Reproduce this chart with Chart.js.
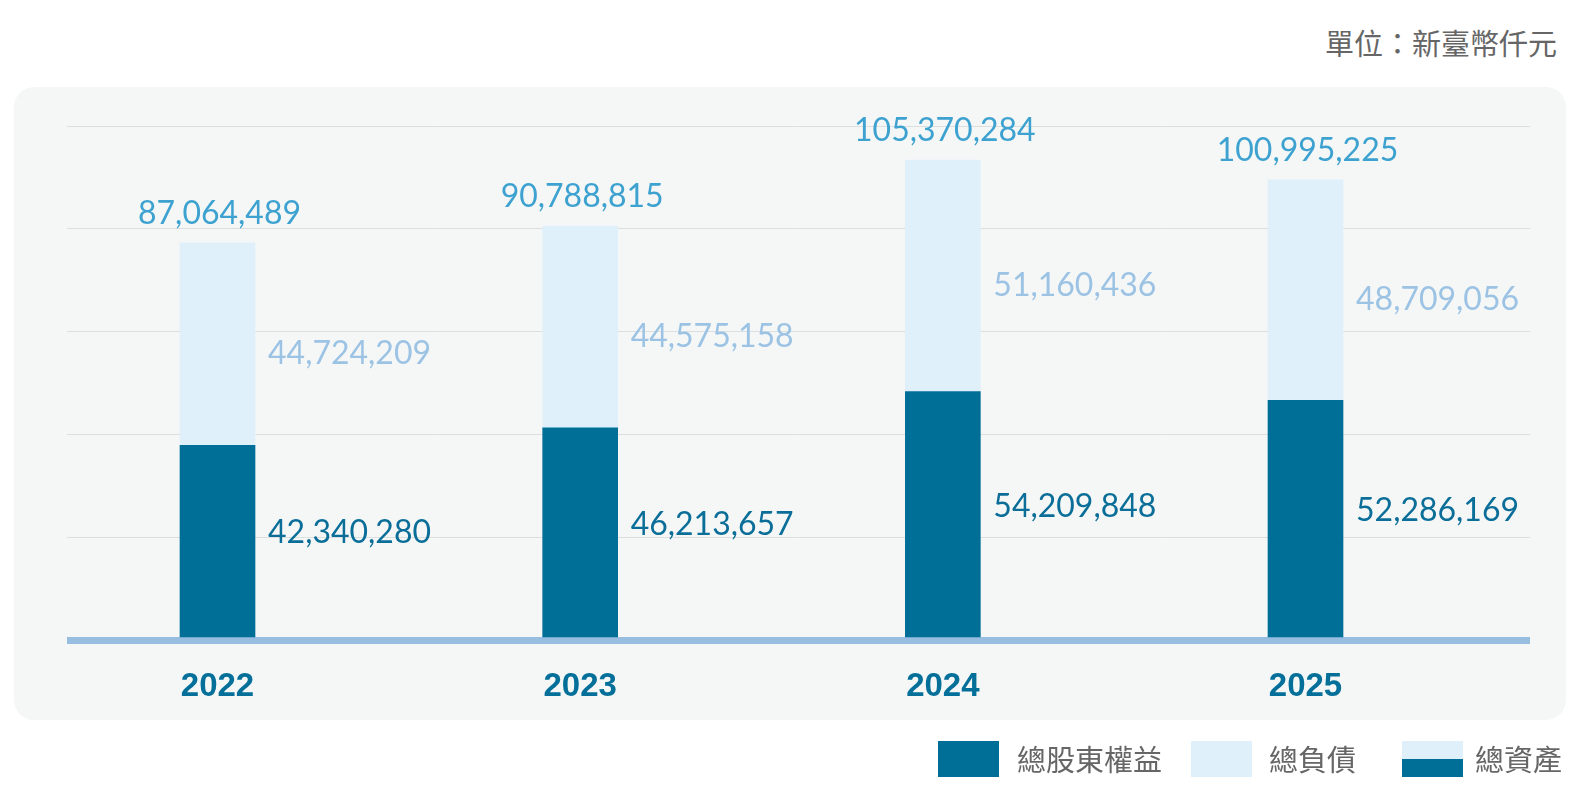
<!DOCTYPE html>
<html lang="zh-Hant">
<head>
<meta charset="utf-8">
<title>總資產</title>
<script src="https://cdn.jsdelivr.net/npm/chart.js@4/dist/chart.umd.min.js"></script>
<style>
  html, body { margin: 0; padding: 0; background: #ffffff; overflow: hidden; }
  #page { position: relative; width: 1582px; height: 799px; }
  #panel { position: absolute; left: 14px; top: 87px; width: 1552px; height: 633px; background: #f5f7f7; border-radius: 20px; }
  #unit { position: absolute; right: 25px; top: 22px; font: 29px "Noto Sans CJK TC", sans-serif; color: #666; line-height: 40px; }
  #chartWrap { position: absolute; left: 0; top: 0; width: 1582px; height: 799px; }
  .lg-box { position: absolute; top: 741px; width: 61px; height: 36px; }
  .lg-text { position: absolute; top: 737px; font: 29px "Noto Sans CJK TC", sans-serif; color: #666; line-height: 42px; }
</style>
</head>
<body>
<div id="page">
  <div id="panel"></div>
  <div id="unit">單位：新臺幣仟元</div>
  <div id="chartWrap"><canvas id="chartCanvas"></canvas></div>
  <div class="lg-box" style="left:938px; background:#006f98;"></div>
  <div class="lg-text" style="left:1017px;">總股東權益</div>
  <div class="lg-box" style="left:1191px; background:#dff0fa;"></div>
  <div class="lg-text" style="left:1269px;">總負債</div>
  <div class="lg-box" style="left:1402px; background:linear-gradient(#dff0fa 0 50%, #006f98 50% 100%);"></div>
  <div class="lg-text" style="left:1475px;">總資產</div>
</div>
<script>
// values in NT$ thousands
const years = ['2022', '2023', '2024', '2025'];
const equity = [42340280, 46213657, 54209848, 52286169];
const liabilities = [44724209, 44575158, 51160436, 48709056];
const totals = [87064489, 90788815, 105370284, 100995225];

const DARK = '#006f98';
const LIGHT = '#dff0fa';

function fmt(v) {
  return v.toLocaleString('en-US');
}

// draws the numbers next to / above each bar
const valueLabels = {
  id: 'valueLabels',
  afterDatasetsDraw(chart) {
    const ctx = chart.ctx;
    const eqBars = chart.getDatasetMeta(0).data;
    const liBars = chart.getDatasetMeta(1).data;
    ctx.save();
    ctx.font = '32px Lato, "Noto Sans", sans-serif';
    for (let i = 0; i < years.length; i++) {
      const eq = eqBars[i];
      const li = liBars[i];
      const right = eq.x + eq.width / 2 + 13;

      ctx.textAlign = 'center';
      ctx.textBaseline = 'alphabetic';
      ctx.fillStyle = '#3ea2d0';
      ctx.fillText(fmt(totals[i]), eq.x + 2, li.y - 19);

      ctx.textAlign = 'left';
      ctx.textBaseline = 'middle';
      ctx.fillStyle = '#9cc3e4';
      ctx.fillText(fmt(liabilities[i]), right, (li.y + li.base) / 2 + 10);

      ctx.fillStyle = '#0a6e98';
      ctx.fillText(fmt(equity[i]), right, (eq.y + eq.base) / 2 - 8);
    }
    ctx.restore();
  }
};

function renderChart() {
  const ctx = document.getElementById('chartCanvas').getContext('2d');
  new Chart(ctx, {
    type: 'bar',
    data: {
      datasets: [
        {
          label: '總股東權益',
          data: equity.map((v, i) => ({ x: i, y: v })),
          backgroundColor: DARK,
          barThickness: 75
        },
        {
          label: '總負債',
          data: liabilities.map((v, i) => ({ x: i, y: v })),
          backgroundColor: LIGHT,
          barThickness: 75
        }
      ]
    },
    options: {
      responsive: true,
      maintainAspectRatio: false,
      animation: false,
      layout: { padding: { left: 67, right: 52, top: 126, bottom: 65 } },
      scales: {
        x: {
          type: 'linear',
          stacked: true,
          offset: false,
          min: -0.415,
          max: 3.619,
          grid: { display: false, drawTicks: false, offset: false },
          border: { display: false },
          ticks: {
            stepSize: 1,
            includeBounds: false,
            padding: 27,
            color: '#04709a',
            font: { family: '"Liberation Sans", Arial, sans-serif', size: 33, weight: 'bold' },
            callback: (v) => Number.isInteger(v) ? years[v] : ''
          }
        },
        y: {
          stacked: true,
          min: -773000,
          max: 112880000,
          grid: {
            drawTicks: false,
            color: (c) => c.index === 0 ? '#97bde0' : '#dcdfdf',
            lineWidth: (c) => c.index === 0 ? 7 : 1
          },
          border: { display: false },
          ticks: { display: false, count: 6 }
        }
      },
      plugins: {
        legend: { display: false },
        tooltip: { enabled: false }
      }
    },
    plugins: [valueLabels]
  });
}

document.addEventListener('DOMContentLoaded', () => {
  renderChart();
});
</script>
</body>
</html>
